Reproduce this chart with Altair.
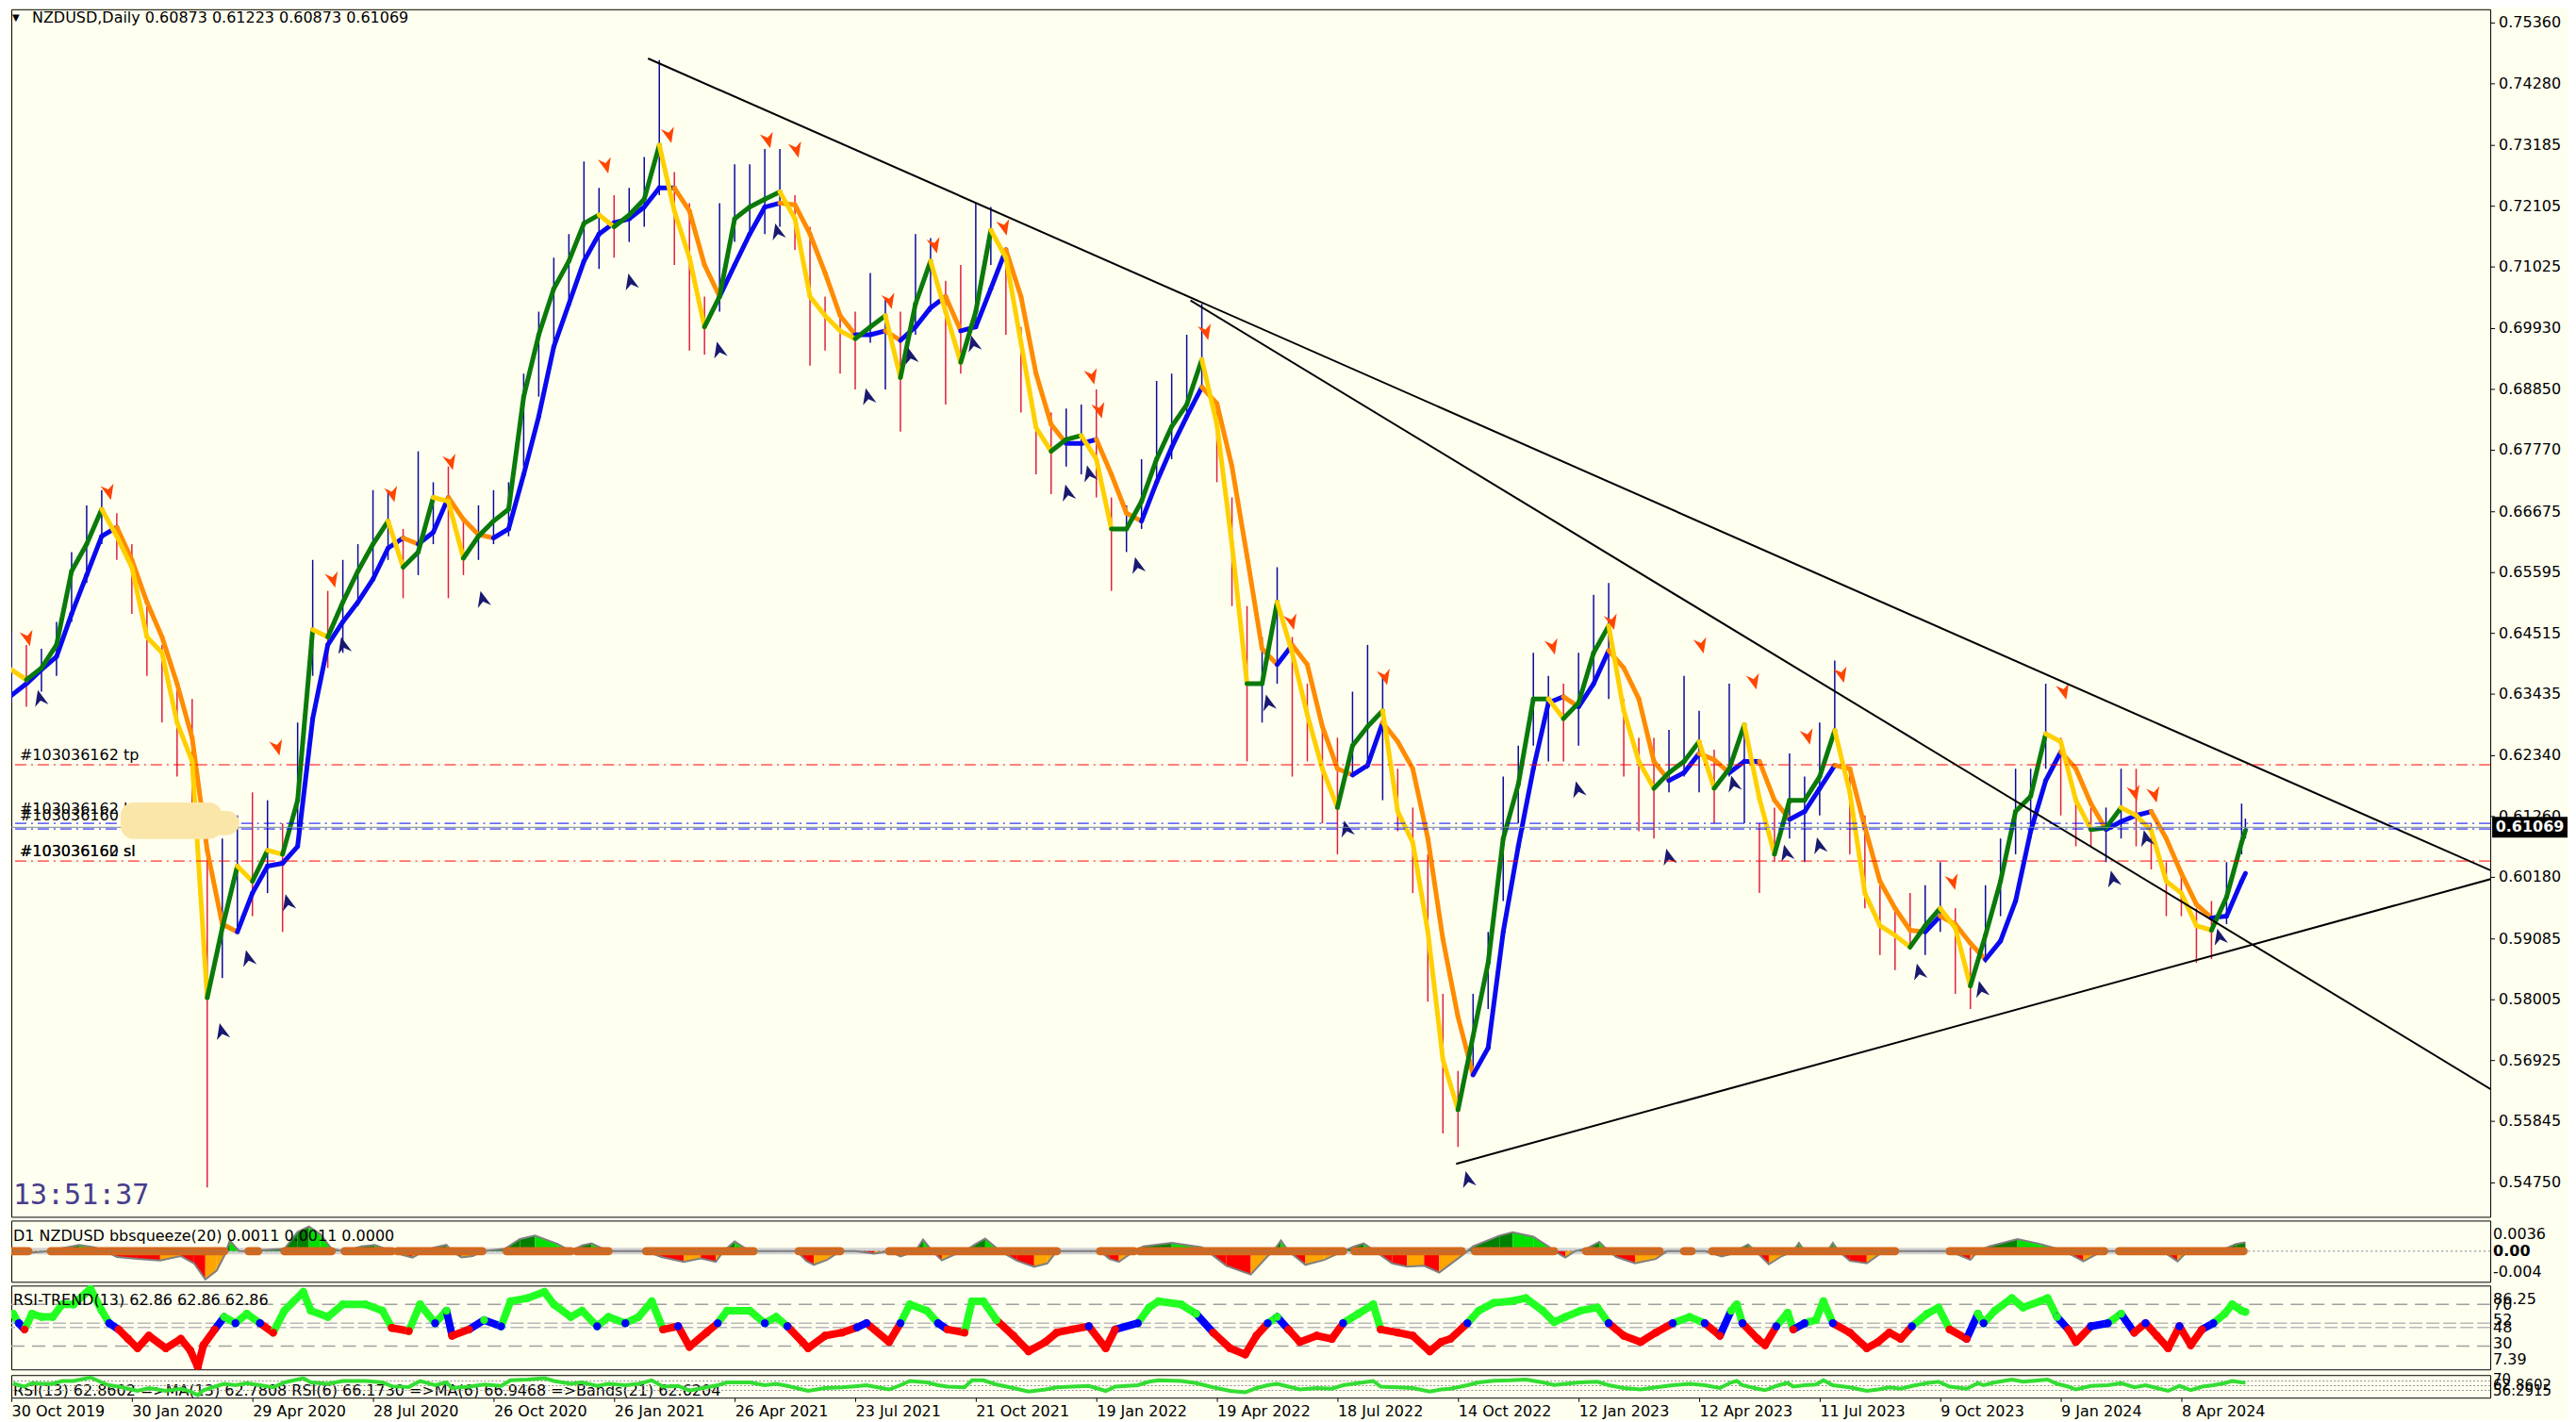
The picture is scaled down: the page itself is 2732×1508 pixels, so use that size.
import altair as alt
import pandas as pd

BG = "#FFFFF0"
FONT = "DejaVu Sans"
W = 2632
X_DOMAIN = [0, 1316]
P_DOMAIN = [0.54148, 0.75604]
BB_DOMAIN = [-0.0063, 0.0063]
RSI_DOMAIN = [7.7, 88.05]
R3_DOMAIN = [-0.8, 95.2]

# ---------------- values ----------------
date_labels = ["30 Oct 2019", "30 Jan 2020", "29 Apr 2020", "28 Jul 2020", "26 Oct 2020",
               "26 Jan 2021", "26 Apr 2021", "23 Jul 2021", "21 Oct 2021", "19 Jan 2022",
               "19 Apr 2022", "18 Jul 2022", "14 Oct 2022", "12 Jan 2023", "12 Apr 2023",
               "11 Jul 2023", "9 Oct 2023", "9 Jan 2024", "8 Apr 2024"]
date_label_bars = [0, 64, 128, 192, 256, 320, 384, 448, 512, 576, 640, 704, 768, 832,
                   896, 960, 1024, 1088, 1152]
price_ticks = [0.75360, 0.74280, 0.73185, 0.72105, 0.71025, 0.69930, 0.68850, 0.67770,
               0.66675, 0.65595, 0.64515, 0.63435, 0.62340, 0.61260, 0.60180, 0.59085,
               0.58005, 0.56925, 0.55845, 0.54750]

ohlc_last = [0.60873, 0.61223, 0.60873, 0.61069]

sample_bars = list(range(0, 1185, 8)) + [1186]

fast_ma = [
    0.6387, 0.6369, 0.6390, 0.6431, 0.6562, 0.6610, 0.6672, 0.6624, 0.6569, 0.6445,
    0.6417, 0.6293, 0.6224, 0.5804, 0.5928, 0.6038, 0.6011, 0.6066, 0.6059, 0.6155,
    0.6458, 0.6445, 0.6507, 0.6562, 0.6610, 0.6651, 0.6569, 0.6596, 0.6693, 0.6686,
    0.6585, 0.6624, 0.6651, 0.6672, 0.6872, 0.6982, 0.7064, 0.7113, 0.7180, 0.7195,
    0.7174, 0.7195, 0.7223, 0.7319, 0.7202, 0.7119, 0.6996, 0.7050, 0.7188, 0.7209,
    0.7223, 0.7236, 0.7188, 0.7050, 0.7016, 0.6989, 0.6975, 0.6996, 0.7016, 0.6906,
    0.7037, 0.7113, 0.7023, 0.6933, 0.7023, 0.7168, 0.7119, 0.6968, 0.6817, 0.6775,
    0.6796, 0.6803, 0.6761, 0.6637, 0.6637, 0.6686, 0.6761, 0.6819, 0.6858, 0.6938,
    0.6823, 0.6610, 0.6362, 0.6362, 0.6507, 0.6417, 0.6307, 0.6211, 0.6142, 0.6252,
    0.6286, 0.6314, 0.6135, 0.6080, 0.5921, 0.5694, 0.5605, 0.5736, 0.5866, 0.6087,
    0.6183, 0.6335, 0.6335, 0.6300, 0.6328, 0.6417, 0.6465, 0.6314, 0.6224, 0.6176,
    0.6204, 0.6224, 0.6259, 0.6176, 0.6211, 0.6289, 0.6158, 0.6059, 0.6155, 0.6155,
    0.6197, 0.6279, 0.6169, 0.5990, 0.5932, 0.5915, 0.5894, 0.5932, 0.5963, 0.5928,
    0.5825, 0.5915, 0.6011, 0.6135, 0.6162, 0.6273, 0.6259, 0.6155, 0.6103, 0.6106,
    0.6142, 0.6128, 0.6101, 0.6011, 0.5990, 0.5932, 0.5924, 0.5983, 0.6080,
    0.6101]

slow_ma = [
    0.6341, 0.6362, 0.6387, 0.6410, 0.6486, 0.6555, 0.6624, 0.6640, 0.6582, 0.6507,
    0.6445, 0.6362, 0.6266, 0.6066, 0.5935, 0.5921, 0.5990, 0.6038, 0.6043, 0.6073,
    0.6300, 0.6431, 0.6472, 0.6507, 0.6548, 0.6603, 0.6621, 0.6610, 0.6631, 0.6693,
    0.6654, 0.6627, 0.6621, 0.6637, 0.6734, 0.6837, 0.6961, 0.7037, 0.7113, 0.7161,
    0.7181, 0.7188, 0.7209, 0.7243, 0.7243, 0.7202, 0.7106, 0.7050, 0.7106, 0.7161,
    0.7209, 0.7216, 0.7213, 0.7161, 0.7092, 0.7016, 0.6982, 0.6982, 0.6989, 0.6972,
    0.6996, 0.7030, 0.7050, 0.6989, 0.6996, 0.7064, 0.7133, 0.7050, 0.6913, 0.6823,
    0.6789, 0.6789, 0.6796, 0.6734, 0.6665, 0.6651, 0.6720, 0.6782, 0.6837, 0.6889,
    0.6860, 0.6748, 0.6589, 0.6424, 0.6396, 0.6431, 0.6396, 0.6286, 0.6211, 0.6200,
    0.6217, 0.6293, 0.6259, 0.6211, 0.6087, 0.5908, 0.5770, 0.5667, 0.5715, 0.5921,
    0.6073, 0.6211, 0.6328, 0.6339, 0.6321, 0.6362, 0.6421, 0.6390, 0.6335, 0.6224,
    0.6190, 0.6204, 0.6238, 0.6227, 0.6204, 0.6224, 0.6224, 0.6155, 0.6121, 0.6135,
    0.6176, 0.6217, 0.6211, 0.6107, 0.6011, 0.5963, 0.5924, 0.5921, 0.5949, 0.5935,
    0.5901, 0.5872, 0.5905, 0.5976, 0.6100, 0.6190, 0.6241, 0.6211, 0.6149, 0.6103,
    0.6117, 0.6128, 0.6135, 0.6087, 0.6025, 0.5970, 0.5946, 0.5949, 0.6011,
    0.6025]

bar_high = [
    0.6452, 0.6431, 0.6424, 0.6472, 0.6596, 0.6679, 0.6706, 0.6665, 0.6610, 0.6500,
    0.6431, 0.6362, 0.6335, 0.6114, 0.6087, 0.6128, 0.6169, 0.6155, 0.6114, 0.6293,
    0.6582, 0.6527, 0.6582, 0.6610, 0.6706, 0.6706, 0.6637, 0.6775, 0.6720, 0.6748,
    0.6651, 0.6679, 0.6706, 0.6720, 0.6913, 0.7023, 0.7119, 0.7161, 0.7290, 0.7243,
    0.7230, 0.7243, 0.7298, 0.7470, 0.7271, 0.7216, 0.7050, 0.7216, 0.7285, 0.7285,
    0.7312, 0.7312, 0.7230, 0.7174, 0.7050, 0.7023, 0.7023, 0.7092, 0.7044, 0.7023,
    0.7161, 0.7154, 0.7078, 0.7106, 0.7216, 0.7209, 0.7119, 0.6996, 0.6830, 0.6844,
    0.6851, 0.6858, 0.6885, 0.6693, 0.6679, 0.6761, 0.6900, 0.6913, 0.6982, 0.7037,
    0.6858, 0.6693, 0.6500, 0.6445, 0.6569, 0.6445, 0.6362, 0.6293, 0.6266, 0.6348,
    0.6431, 0.6376, 0.6211, 0.6142, 0.6059, 0.5811, 0.5674, 0.5811, 0.5921, 0.6197,
    0.6252, 0.6417, 0.6376, 0.6362, 0.6417, 0.6520, 0.6541, 0.6335, 0.6266, 0.6266,
    0.6280, 0.6376, 0.6314, 0.6245, 0.6362, 0.6279, 0.6114, 0.6142, 0.6238, 0.6197,
    0.6293, 0.6403, 0.6211, 0.6128, 0.6004, 0.5963, 0.5990, 0.6004, 0.6045, 0.5963,
    0.5894, 0.6004, 0.6087, 0.6211, 0.6211, 0.6362, 0.6266, 0.6155, 0.6142, 0.6142,
    0.6211, 0.6211, 0.6114, 0.6045, 0.6032, 0.5963, 0.5976, 0.6045, 0.6149,
    0.61223]

bar_low = [
    0.6328, 0.6321, 0.6348, 0.6376, 0.6472, 0.6541, 0.6610, 0.6582, 0.6486, 0.6376,
    0.6293, 0.6197, 0.6100, 0.5467, 0.5839, 0.5921, 0.5949, 0.5990, 0.5921, 0.6073,
    0.6376, 0.6390, 0.6417, 0.6500, 0.6555, 0.6582, 0.6514, 0.6555, 0.6610, 0.6514,
    0.6555, 0.6582, 0.6610, 0.6624, 0.6748, 0.6872, 0.6968, 0.7037, 0.7106, 0.7099,
    0.7119, 0.7147, 0.7174, 0.7230, 0.7106, 0.6954, 0.6947, 0.7023, 0.7147, 0.7161,
    0.7161, 0.7174, 0.7133, 0.6927, 0.6954, 0.6913, 0.6885, 0.6968, 0.6885, 0.6810,
    0.6982, 0.7023, 0.6858, 0.6913, 0.6996, 0.7106, 0.6982, 0.6844, 0.6734, 0.6699,
    0.6748, 0.6734, 0.6693, 0.6527, 0.6596, 0.6637, 0.6720, 0.6761, 0.6830, 0.6885,
    0.6720, 0.6500, 0.6224, 0.6293, 0.6362, 0.6197, 0.6224, 0.6114, 0.6059, 0.6197,
    0.6211, 0.6155, 0.6100, 0.5990, 0.5797, 0.5563, 0.5539, 0.5674, 0.5784, 0.5976,
    0.6114, 0.6252, 0.6224, 0.6224, 0.6252, 0.6362, 0.6335, 0.6197, 0.6100, 0.6087,
    0.6169, 0.6197, 0.6169, 0.6114, 0.6197, 0.6114, 0.5990, 0.6045, 0.6087, 0.6045,
    0.6128, 0.6266, 0.6059, 0.5963, 0.5880, 0.5853, 0.5894, 0.5880, 0.5921, 0.5811,
    0.5784, 0.5866, 0.5949, 0.6059, 0.6087, 0.6211, 0.6128, 0.6073, 0.6073, 0.6045,
    0.6087, 0.6073, 0.6032, 0.5949, 0.5949, 0.5866, 0.5873, 0.5935, 0.6059,
    0.60873]

sell_bars = [8.5, 51.5, 141, 170.5, 202, 233, 315.5, 349, 401.5, 416.5, 466, 490, 527,
             573.5, 577.5, 634, 679.5, 729, 818, 849.5, 897, 925, 953.5, 971.5, 1030.5,
             1089.5, 1127, 1137.5]
sell_prices = [0.6444, 0.6704, 0.6250, 0.6548, 0.6700, 0.6757, 0.7284, 0.7338, 0.7329,
               0.7312, 0.7043, 0.7142, 0.7174, 0.6909, 0.6849, 0.6988, 0.6473, 0.6375,
               0.6429, 0.6473, 0.6431, 0.6367, 0.6269, 0.6379, 0.6011, 0.6349, 0.6169,
               0.6166]
buy_bars = [15.5, 112, 126, 147, 176.5, 250.5, 329, 376, 407, 455, 477.5, 511, 561, 572.5,
            598, 667.5, 709, 773.5, 832, 880, 914.5, 942.5, 960, 1013, 1046, 1116, 1133.5,
            1172.5]
buy_prices = [0.6335, 0.5743, 0.5873, 0.5972, 0.6429, 0.6511, 0.7075, 0.6954, 0.7164,
              0.6871, 0.6943, 0.6965, 0.6700, 0.6734, 0.6571, 0.6327, 0.6103, 0.5480,
              0.6173, 0.6053, 0.6183, 0.6060, 0.6073, 0.5849, 0.5818, 0.6014, 0.6086,
              0.5911]

trend_bar_a = [338, 626, 767]
trend_price_a = [0.7473, 0.7043, 0.5509]
trend_bar_b = [1318.5, 1318.5, 1318.5]
trend_price_b = [0.6027, 0.5637, 0.6017]

tp_level = 0.6218
sl_level = 0.6047
order_levels = [0.6114, 0.6104]

bb_bars = [0, 10, 21, 27, 36, 44, 50, 56, 67, 79, 90, 97, 103, 109, 113, 116, 121, 125, 145,
           152, 158, 164, 170, 176, 186, 193, 202, 208, 213, 219, 225, 231, 234, 239, 245,
           250, 262, 270, 278, 290, 297, 303, 308, 317, 337, 345, 357, 366, 374, 378, 384,
           392, 417, 422, 426, 433, 440, 448, 458, 466, 472, 480, 484, 489, 494, 500, 506,
           512, 517, 525, 534, 543, 550, 555, 578, 583, 588, 596, 601, 616, 632, 635, 645,
           658, 667, 670, 674, 678, 687, 697, 707, 713, 718, 724, 733, 741, 750, 758, 768,
           773, 776, 790, 797, 808, 816, 819, 825, 830, 836, 843, 848, 852, 862, 873, 879,
           888, 899, 908, 914, 919, 922, 926, 933, 940, 946, 949, 952, 964, 967, 970, 976,
           985, 994, 1029, 1040, 1044, 1050, 1065, 1077, 1086, 1090, 1100, 1110, 1142, 1150,
           1154, 1160, 1175, 1181, 1186]
bb_vals = [0, -0.0003, 0, 0.0006, 0.0013, 0.0008, 0, -0.0012, -0.0016, -0.0019, -0.0010,
           -0.0025, -0.0058, -0.0040, -0.0010, 0.0022, 0, 0, 0.0005, 0.0040, 0.0051, 0.0035,
           0.0005, 0, 0.0010, 0.0013, 0, -0.0008, -0.0013, 0, 0.0008, 0.0013, 0, -0.0013,
           -0.0010, 0, 0.0005, 0.0025, 0.0032, 0.0015, 0, 0.0012, 0.0016, 0, 0, -0.0012,
           -0.0022, -0.0015, -0.0022, 0, 0.0020, 0, 0, -0.0020, -0.0028, -0.0018, 0, 0,
           -0.0005, 0, -0.0011, 0, 0.0024, 0, -0.0019, -0.0008, 0, 0.0015, 0.0026, 0,
           -0.0020, -0.0032, -0.0025, 0, 0, -0.0016, -0.0022, 0, 0.0010, 0.0017, 0.0008, 0,
           -0.0030, -0.0048, -0.0010, 0, 0.0022, 0, -0.0028, -0.0018, 0, 0.0010, 0.0016, 0,
           -0.0025, -0.0032, -0.0030, -0.0044, -0.0015, 0, 0.0010, 0.0032, 0.0039, 0.0030,
           0.0010, 0, -0.0013, 0, 0.0005, 0.0019, 0, -0.0012, -0.0025, -0.0016, 0, 0, 0,
           -0.0011, -0.0005, 0.0008, 0.0014, 0, -0.0027, -0.0010, 0, 0.0017, 0, 0, 0.0017,
           0, -0.0020, -0.0025, 0, 0, -0.0018, 0, 0.0010, 0.0025, 0.0015, 0.0005, 0, -0.0021,
           0, 0, -0.0021, -0.0005, 0, 0.0005, 0.0015, 0.0018]
squeeze_start = [0, 21, 126, 145, 177, 205, 263, 300, 337, 418, 466, 578, 599, 713, 777,
                 836, 888, 903, 1029, 1119]
squeeze_end = [9, 113, 131, 170, 202, 250, 297, 317, 394, 440, 555, 596, 707, 770, 819,
               875, 892, 1000, 1111, 1185]

rsi_bars = [1, 4, 7, 11, 16, 22, 27, 33, 42, 48, 52, 57, 62, 67, 73, 82, 90, 95, 99, 102,
            108, 113, 119, 125, 132, 139, 145, 155, 159, 168, 176, 188, 197, 202, 211, 217,
            225, 231, 234, 243, 251, 260, 265, 274, 283, 288, 297, 303, 311, 317, 326, 333,
            340, 346, 354, 360, 369, 375, 380, 392, 400, 406, 412, 420, 423, 432, 441, 449,
            454, 466, 472, 477, 486, 492, 497, 506, 510, 516, 523, 532, 540, 549, 555, 563,
            572, 581, 586, 598, 604, 609, 621, 629, 638, 647, 655, 661, 667, 672, 678, 684,
            693, 701, 707, 715, 723, 727, 736, 744, 753, 759, 764, 773, 779, 787, 796, 804,
            813, 819, 825, 833, 842, 848, 856, 865, 873, 882, 891, 899, 907, 913, 916, 919,
            927, 931, 937, 943, 946, 952, 958, 962, 967, 976, 985, 991, 997, 1003, 1009,
            1017, 1023, 1029, 1038, 1044, 1047, 1053, 1062, 1068, 1077, 1081, 1086, 1092,
            1096, 1104, 1113, 1120, 1127, 1133, 1139, 1145, 1151, 1157, 1163, 1169, 1175,
            1179, 1184, 1186]
rsi_vals = [61, 52, 46, 61, 58, 58, 70, 70, 85, 64, 52, 46, 37, 28, 40, 28, 37, 26, 10, 31,
            46, 58, 52, 61, 52, 43, 64, 82, 64, 58, 70, 70, 64, 47.5, 44.5, 70,
            52, 64, 40, 46, 55, 49, 73, 76, 82, 70, 58, 64, 49, 58, 52, 58,
            73, 46, 49, 29.4, 43, 52, 64, 64, 52, 58, 49, 34, 28, 40, 43, 48,
            52, 34, 52, 70, 64, 52, 46, 43, 73, 73, 55, 40, 25, 34, 43, 46,
            49, 28, 46, 52, 67, 73, 70, 61, 43, 28, 22, 40, 52, 58, 46, 34,
            40, 37, 52, 61, 70, 46, 43, 40, 25, 34, 37, 52, 64, 71.5, 73, 76,
            64, 53, 58, 64, 67, 52, 40, 34, 43, 52, 58, 52, 40, 64, 70, 52,
            37, 31, 49, 62, 46, 52, 55, 73, 52, 43, 28, 34, 43, 37, 49,
            61, 67, 46, 37, 61, 52, 64, 76, 67, 73, 76, 58, 46,
            34, 49, 52, 61, 43, 52, 40, 28, 49, 31, 46, 52, 61,
            70, 64, 62.86]

# ---------------- helpers ----------------
def X(field, axis=None):
    return alt.X(field, type="quantitative",
                 scale=alt.Scale(domain=X_DOMAIN, nice=False, zero=False), axis=axis)


def Y(field, domain, axis=None):
    return alt.Y(field, type="quantitative",
                 scale=alt.Scale(domain=domain, nice=False, zero=False), axis=axis)


def segs(xs, ys, up_col, down_col):
    rows = []
    for i in range(len(xs) - 1):
        rows.append(dict(x1=xs[i], x2=xs[i + 1], y1=ys[i], y2=ys[i + 1],
                         c=up_col if ys[i + 1] >= ys[i] else down_col))
    return pd.DataFrame(rows)


def text_px(txt, x, y, size=16, color="black", align="left", font=FONT, weight="normal"):
    return alt.Chart(pd.DataFrame({"t": [txt]})).mark_text(
        align=align, baseline="middle", fontSize=size, font=font, color=color,
        fontWeight=weight).encode(x=alt.value(x), y=alt.value(y), text="t:N")


# ---------------- main price panel ----------------
cand_rows = []
for i, b in enumerate(sample_bars):
    if i == len(sample_bars) - 1:
        up = ohlc_last[3] >= ohlc_last[0]
    else:
        up = i == 0 or fast_ma[i] >= fast_ma[i - 1]
    cand_rows.append(dict(bar=b, high=bar_high[i], low=bar_low[i],
                          c="#0A0A9A" if up else "#E0203C"))
cand_df = pd.DataFrame(cand_rows)

candles = alt.Chart(cand_df).mark_rule(strokeWidth=1.5, clip=True).encode(
    x=X("bar"), y=Y("high", P_DOMAIN), y2="low",
    color=alt.Color("c:N", scale=None))

slow_line = alt.Chart(segs(sample_bars, slow_ma, "#0A0AF0", "#FF8C00")).mark_rule(
    strokeWidth=5, strokeCap="round", clip=True).encode(
    x=X("x1"), x2="x2", y=Y("y1", P_DOMAIN), y2="y2", color=alt.Color("c:N", scale=None))

fast_line = alt.Chart(segs(sample_bars, fast_ma, "#0A7A0A", "#FFD000")).mark_rule(
    strokeWidth=5, strokeCap="round", clip=True).encode(
    x=X("x1"), x2="x2", y=Y("y1", P_DOMAIN), y2="y2", color=alt.Color("c:N", scale=None))

SELL_SHAPE = "M0.3,1 L-0.9,-0.6 L0,-0.2 L0.6,-0.9 Z"
BUY_SHAPE = "M-0.3,-1 L-0.6,0.9 L0,0.2 L0.9,0.6 Z"
sells = alt.Chart(pd.DataFrame({"bar": sell_bars, "p": sell_prices})).mark_point(
    shape=SELL_SHAPE, filled=True, size=340, color="#FF4500", opacity=1, clip=True).encode(
    x=X("bar"), y=Y("p", P_DOMAIN))
buys = alt.Chart(pd.DataFrame({"bar": buy_bars, "p": buy_prices})).mark_point(
    shape=BUY_SHAPE, filled=True, size=360, color="#191970", opacity=1, clip=True).encode(
    x=X("bar"), y=Y("p", P_DOMAIN))

trend_df = pd.DataFrame({"x1": trend_bar_a, "x2": trend_bar_b,
                         "y1": trend_price_a, "y2": trend_price_b})
trends = alt.Chart(trend_df).mark_rule(color="black", strokeWidth=2, clip=True).encode(
    x=X("x1"), x2="x2", y=Y("y1", P_DOMAIN), y2="y2")

red_lines = alt.Chart(pd.DataFrame({"p": [tp_level, sl_level]})).mark_rule(
    color="#FF0000", strokeWidth=1, strokeDash=[12, 5, 2, 5]).encode(y=Y("p", P_DOMAIN))
blue_lines = alt.Chart(pd.DataFrame({"p": order_levels})).mark_rule(
    color="#0000FF", strokeWidth=1, strokeDash=[12, 5, 2, 5]).encode(y=Y("p", P_DOMAIN))
bid_line = alt.Chart(pd.DataFrame({"p": [ohlc_last[3]]})).mark_rule(
    color="#778899", strokeWidth=1).encode(y=Y("p", P_DOMAIN))

order_labels = [(4.5, tp_level, "#103036162 tp", -10),
                (4.5, order_levels[0], "#103036162 buy", -15),
                (4.5, order_levels[0], "#103036160", -8),
                (4.5, sl_level, "#103036160 sl", -10),
                (4.5, sl_level, "#103036162 sl", -10)]
label_layers = []
for b, p, t, dy in order_labels:
    label_layers.append(
        alt.Chart(pd.DataFrame({"bar": [b], "p": [p], "t": [t]})).mark_text(
            align="left", baseline="middle", dy=dy, fontSize=16, font=FONT,
            color="black").encode(x=X("bar"), y=Y("p", P_DOMAIN), text="t:N"))

blob_df = pd.DataFrame({"b1": [58, 95], "b2": [112, 121],
                        "p1": [0.6151, 0.6136], "p2": [0.6086, 0.6093]})
blob = alt.Chart(blob_df).mark_rect(cornerRadius=14, color="#FBE6AA").encode(
    x=X("b1"), x2="b2", y=Y("p1", P_DOMAIN), y2="p2")

# right price scale drawn as ticks + labels
tick_df = pd.DataFrame({"p": price_ticks, "t": ["%.5f" % v for v in price_ticks]})
price_tick_marks = alt.Chart(tick_df).mark_rule(color="black", strokeWidth=1).encode(
    x=alt.value(W), x2=alt.value(W + 5), y=Y("p", P_DOMAIN))
price_tick_labels = alt.Chart(tick_df).mark_text(
    align="left", baseline="middle", fontSize=16, font=FONT, color="black").encode(
    x=alt.value(W + 9), y=Y("p", P_DOMAIN), text="t:N")

box_df = pd.DataFrame({"p": [ohlc_last[3]], "p1": [ohlc_last[3] + 0.00184],
                       "p2": [ohlc_last[3] - 0.00184],
                       "t": ["%.5f" % ohlc_last[3]]})
price_box = alt.Chart(box_df).mark_rect(color="black").encode(
    x=alt.value(W + 2), x2=alt.value(W + 82), y=Y("p1", P_DOMAIN), y2="p2")
price_box_text = alt.Chart(box_df).mark_text(
    align="center", baseline="middle", fontSize=16, font=FONT, color="white",
    fontWeight="bold").encode(x=alt.value(W + 42), y=Y("p", P_DOMAIN), text="t:N")

title_txt = "NZDUSD,Daily  " + " ".join("%.5f" % v for v in ohlc_last)

main = alt.layer(
    candles, slow_line, fast_line, sells, buys, trends, red_lines, blue_lines, bid_line,
    *label_layers, blob, price_tick_marks, price_tick_labels, price_box, price_box_text,
    text_px("\u25BC", 1, 9, size=10),
    text_px(title_txt, 22, 9, size=16),
    text_px("13:51:37", 2, 1260, size=30, color="#483D8B", font="DejaVu Sans Mono"),
).properties(width=W, height=1282)

# ---------------- bbsqueeze panel ----------------
bb_rows = []
for i in range(len(bb_bars) - 1):
    v0, v1 = bb_vals[i], bb_vals[i + 1]
    if (v0 + v1) / 2 >= 0:
        c = "#008000" if v1 >= v0 else "#00E000"
    else:
        c = "#FF0000" if v1 <= v0 else "#FFA500"
    for b, v in ((bb_bars[i], v0), (bb_bars[i + 1], v1)):
        bb_rows.append(dict(seg=i, bar=b, v=v, zero=0.0, c=c))
bb_df = pd.DataFrame(bb_rows)
bb_pts = pd.DataFrame({"bar": bb_bars, "v": bb_vals})

zero_band = alt.Chart(pd.DataFrame({"a": [0], "b": [1186], "z": [0.0]})).mark_rule(
    color="#D3D3D3", strokeWidth=7).encode(x=X("a"), x2="b", y=Y("z", BB_DOMAIN))
bb_area = alt.Chart(bb_df).mark_area(clip=True).encode(
    x=X("bar"), y=Y("v", BB_DOMAIN), y2="zero", color=alt.Color("c:N", scale=None),
    detail="seg:N")
bb_outline = alt.Chart(bb_pts).mark_line(color="#808080", strokeWidth=2, clip=True).encode(
    x=X("bar"), y=Y("v", BB_DOMAIN))
sq_df = pd.DataFrame({"a": squeeze_start, "b": squeeze_end, "z": [0.0] * len(squeeze_start)})
squeeze = alt.Chart(sq_df).mark_rule(color="#D2691E", strokeWidth=9, strokeCap="round",
                                     clip=True).encode(
    x=X("a"), x2="b", y=Y("z", BB_DOMAIN))
zero_dots = alt.Chart(pd.DataFrame({"z": [0.0]})).mark_rule(
    color="#708090", strokeWidth=1, strokeDash=[2, 3]).encode(y=Y("z", BB_DOMAIN))

panel1 = alt.layer(
    zero_band, bb_area, bb_outline, squeeze, zero_dots,
    text_px("D1 NZDUSD bbsqueeze(20) 0.0011 0.0011 0.0000", 2, 17),
    text_px("0.0036", W + 3, 15),
    text_px("0.00", W + 3, 33, weight="bold"),
    text_px("-0.004", W + 3, 55),
).properties(width=W, height=65)

# ---------------- RSI-TREND panel ----------------
def rsi_col(v):
    if v > 52:
        return "#22FF22"
    if v < 48:
        return "#FF0000"
    return "#0000FF"


rsi_seg_rows = []
for i in range(len(rsi_bars) - 1):
    m = (rsi_vals[i] + rsi_vals[i + 1]) / 2
    rsi_seg_rows.append(dict(x1=rsi_bars[i], x2=rsi_bars[i + 1], y1=rsi_vals[i],
                             y2=rsi_vals[i + 1], c=rsi_col(m)))
rsi_seg_df = pd.DataFrame(rsi_seg_rows)
rsi_pt_df = pd.DataFrame({"bar": rsi_bars, "v": rsi_vals,
                          "c": [rsi_col(v) for v in rsi_vals]})

lv_outer = alt.Chart(pd.DataFrame({"v": [70, 30]})).mark_rule(
    color="#A0A0A0", strokeWidth=1.5, strokeDash=[14, 8]).encode(y=Y("v", RSI_DOMAIN))
lv_inner = alt.Chart(pd.DataFrame({"v": [52, 48]})).mark_rule(
    color="#B8B8B8", strokeWidth=1.5, strokeDash=[14, 4]).encode(y=Y("v", RSI_DOMAIN))
rsi_chain = alt.Chart(rsi_seg_df).mark_rule(strokeWidth=8, strokeCap="round",
                                            clip=True).encode(
    x=X("x1"), x2="x2", y=Y("y1", RSI_DOMAIN), y2="y2", color=alt.Color("c:N", scale=None))
rsi_dots = alt.Chart(rsi_pt_df).mark_circle(size=70, opacity=1, clip=True).encode(
    x=X("bar"), y=Y("v", RSI_DOMAIN), color=alt.Color("c:N", scale=None))

rsi_right = [("86.25", 15), ("70", 21), ("52", 37), ("48", 45), ("30", 62), ("7.39", 79)]
panel2 = alt.layer(
    lv_outer, lv_inner, rsi_chain, rsi_dots,
    text_px("RSI-TREND(13) 62.86 62.86 62.86", 2, 16),
    *[text_px(t, W + 3, y) for t, y in rsi_right],
).properties(width=W, height=89)

# ---------------- RSI / MA / Bands panel ----------------
date_expr = "[" + ",".join("'%s'" % d for d in date_labels) + "][round(datum.value / 64)]"
x_axis = alt.Axis(values=date_label_bars, labelExpr=date_expr, title=None, grid=False,
                  domain=False, ticks=True, tickSize=4, tickColor="black", labelAlign="left",
                  labelBaseline="top", labelPadding=2, labelFontSize=16, labelFont=FONT,
                  labelColor="black", labelOverlap=False, labelBound=False, labelFlush=False)

r3_levels = alt.Chart(pd.DataFrame({"v": [70, 50, 30]})).mark_rule(
    color="#909090", strokeWidth=1, strokeDash=[2, 2]).encode(y=Y("v", R3_DOMAIN))
r3_line = alt.Chart(pd.DataFrame({"bar": rsi_bars, "v": rsi_vals})).mark_line(
    color="#33DD33", strokeWidth=4, clip=True).encode(
    x=X("bar", x_axis), y=Y("v", R3_DOMAIN))
r3_txt = ("RSI(13) 62.8602 =>MA(13) 62.7808 RSI(6) 66.1730 =>MA(6) 66.9468 "
          "=>Bands(21) 62.6204")
r3_right = [("70", 5), ("62.8602", 11), ("56.2915", 17)]
panel3 = alt.layer(
    text_px(r3_txt, 2, 17), r3_levels, r3_line,
    *[text_px(t, W + 3, y, size=15) for t, y in r3_right],
).properties(width=W, height=24)

chart = alt.vconcat(main, panel1, panel2, panel3, spacing=2).properties(
    padding={"left": 0, "top": 0, "right": 0, "bottom": 0},
    background=BG,
).configure_view(stroke="black", strokeWidth=1, fill=BG)

chart.save("out.html", embed_options={"renderer": "svg", "actions": False})
